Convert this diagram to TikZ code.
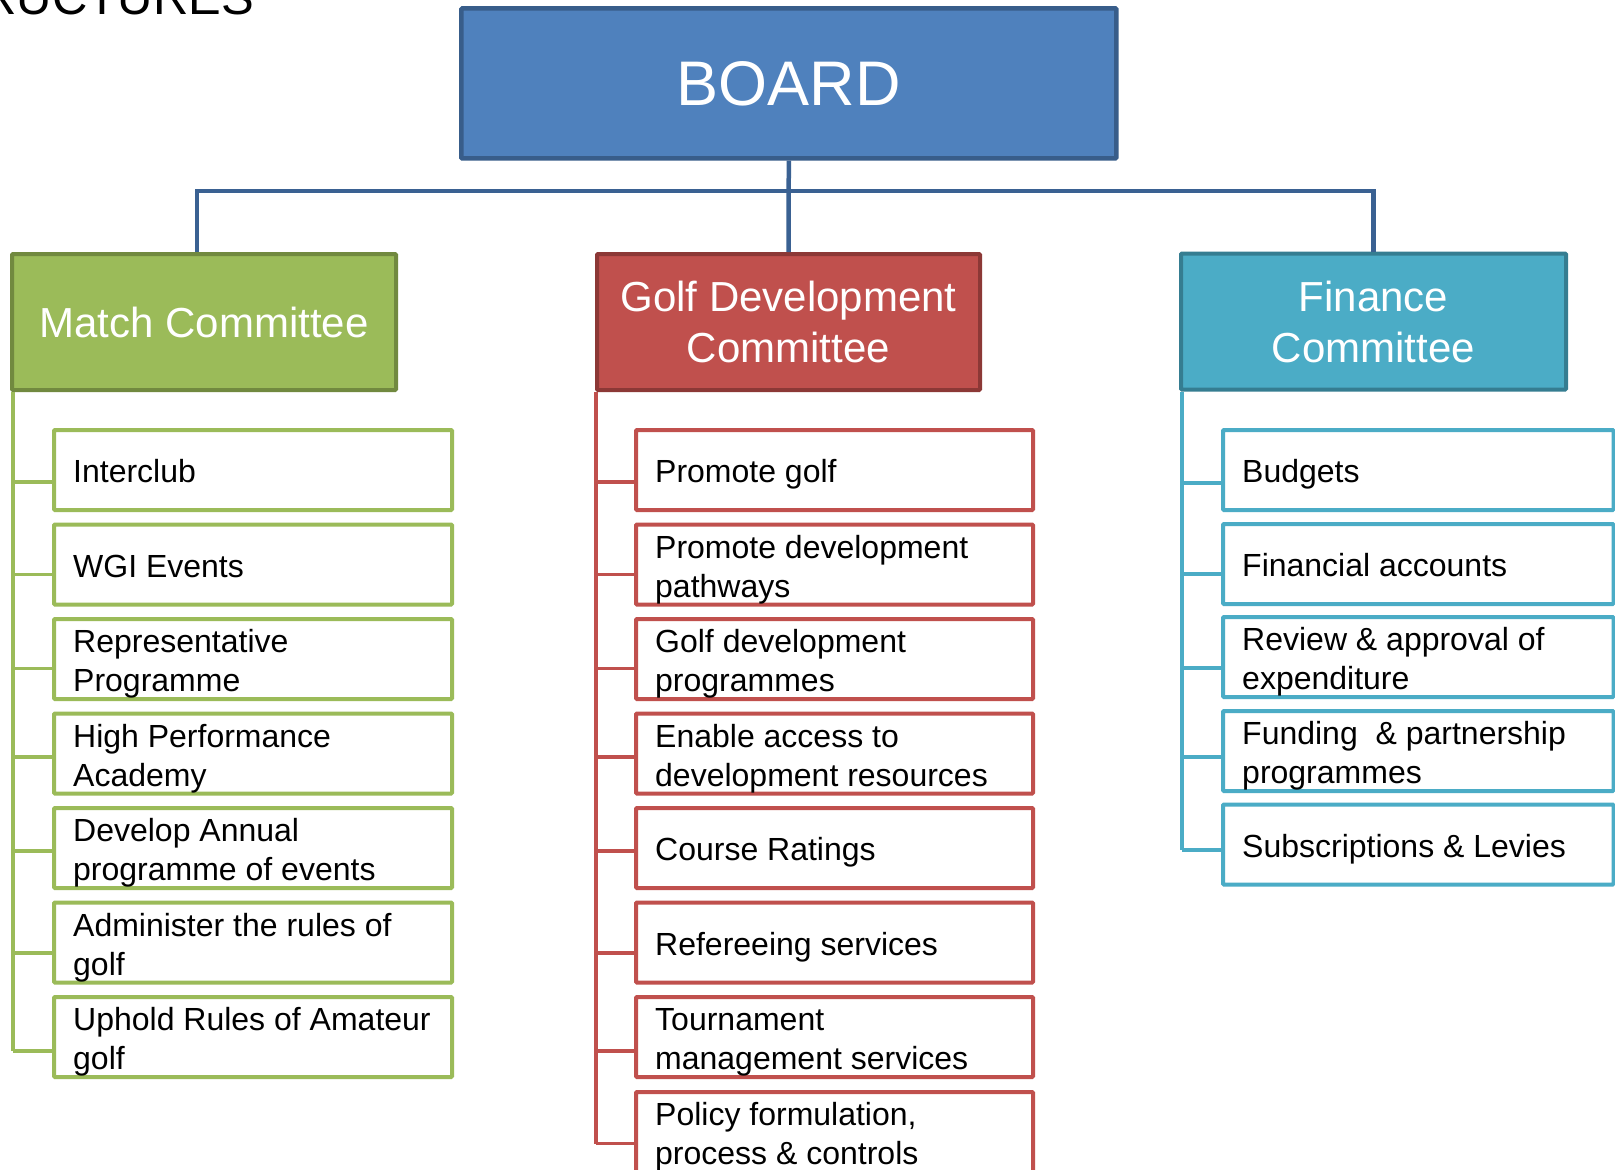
\documentclass[tikz,border=0pt]{standalone}
\usepackage{fontspec}
\setmainfont{Liberation Sans}
\usetikzlibrary{calc}
\definecolor{boardfill}{HTML}{4F81BD}
\definecolor{boardline}{HTML}{385D8A}
\definecolor{buscol}{HTML}{3A6192}
\definecolor{gfill}{HTML}{9BBB59}
\definecolor{gdark}{HTML}{71893F}
\definecolor{rfill}{HTML}{C0504D}
\definecolor{rdark}{HTML}{8C3836}
\definecolor{tfill}{HTML}{4BACC6}
\definecolor{tdark}{HTML}{357D91}
\tikzset{
  boardbox/.style={draw=boardline, fill=boardfill, line width=4.5pt, minimum width=655pt, minimum height=150pt, inner sep=0pt, rounded corners=1pt, text=white, font=\fontsize{63}{70}\selectfont},
  combox/.style={line width=4pt, minimum width=384pt, minimum height=136pt, inner sep=0pt, rounded corners=1pt, text=white, align=center, font=\fontsize{42}{51}\selectfont},
  itembox/.style={draw=#1, fill=white, line width=4pt, minimum height=80pt, inner sep=0pt, rounded corners=1pt},
  itxt/.style={anchor=west, inner sep=0pt, align=left, font=\fontsize{32}{39}\selectfont},
  itxtone/.style={anchor=base west, inner sep=0pt, font=\fontsize{32}{39}\selectfont},
  busline/.style={draw=buscol, line width=4.5pt},
  trunk/.style={draw=#1, line width=3.3pt},
  titletext/.style={inner sep=0pt, font=\fontsize{49}{55}\selectfont}
}
\begin{document}
\begin{tikzpicture}[x=1pt,y=-1pt]
\useasboundingbox (0,0) rectangle (1615,1170);
\clip (0,0) rectangle (1615,1170);
\fill[white] (0,0) rectangle (1615,1170);

% title fragment
\node[titletext, anchor=base east] (title) at (254,14) {STRUCTURES};

% top level
\node[boardbox] (board) at (788.8,83.4) {BOARD};
\node[combox, draw=gdark, fill=gfill] (match) at (204,322) {Match Committee};
\node[combox, draw=rdark, fill=rfill, minimum width=383pt] (golf) at (788.5,322) {Golf Development\\Committee};
\node[combox, draw=tdark, fill=tfill, minimum width=385pt] (fin) at (1373.5,321.5) {Finance\\Committee};

\coordinate (bus) at (788.8,191);
\draw[busline] (board.south) -- (golf.north);
\draw[busline] ($(match.north)+(-7,0)$) |- (bus) -| (fin.north);

% ---------- green column ----------
\coordinate (gtop) at (13,392);
\draw[trunk=gfill] (gtop) -- (13,1051);
\foreach \i/\y/\by in {1/470/482, 2/564.5/574.5, 3/659/668.5, 4/753.5/757, 5/848/851, 6/942.5/953, 7/1037/1051}{
  \node[itembox=gfill, minimum width=398pt] (g\i) at (253,\y) {};
  \draw[trunk=gfill] (gtop |- 0,\by) -- (g\i.west |- 0,\by);
}
\node[itxtone] (g1t) at ($(g1.west)+(21,12.5)$) {Interclub};
\node[itxtone] (g2t) at ($(g2.west)+(21,12.5)$) {WGI Events};
\node[itxt] (g3t) at ($(g3.west)+(21,5)$) {Representative\\Programme};
\node[itxt] (g4t) at ($(g4.west)+(21,5)$) {High Performance\\Academy};
\node[itxt] (g5t) at ($(g5.west)+(21,5)$) {Develop Annual\\programme of events};
\node[itxt] (g6t) at ($(g6.west)+(21,5)$) {Administer the rules of\\golf};
\node[itxt] (g7t) at ($(g7.west)+(21,5)$) {Uphold Rules of Amateur\\golf};

% ---------- red column ----------
\coordinate (rtop) at (596,392);
\draw[trunk=rfill] (rtop) -- (596,1143.5);
\foreach \i/\y/\by in {1/470/482, 2/564.5/574.5, 3/659/668.5, 4/753.5/757, 5/848/851, 6/942.5/953, 7/1037/1051, 8/1132/1143.5}{
  \node[itembox=rfill, minimum width=397pt] (r\i) at (834.5,\y) {};
  \draw[trunk=rfill] (rtop |- 0,\by) -- (r\i.west |- 0,\by);
}
\node[itxtone] (r1t) at ($(r1.west)+(21,12.5)$) {Promote golf};
\node[itxt] (r2t) at ($(r2.west)+(21,5)$) {Promote development\\pathways};
\node[itxt] (r3t) at ($(r3.west)+(21,5)$) {Golf development\\programmes};
\node[itxt] (r4t) at ($(r4.west)+(21,5)$) {Enable access to\\development resources};
\node[itxtone] (r5t) at ($(r5.west)+(21,12.5)$) {Course Ratings};
\node[itxtone] (r6t) at ($(r6.west)+(21,12.5)$) {Refereeing services};
\node[itxt] (r7t) at ($(r7.west)+(21,5)$) {Tournament\\management services};
\node[itxt] (r8t) at ($(r8.west)+(21,5)$) {Policy formulation,\\process \& controls};

% ---------- teal column ----------
\coordinate (ttop) at (1182,392);
\draw[trunk=tfill] (ttop) -- (1182,850);
\foreach \i/\y/\by in {1/470/483, 2/564/574, 3/657/668, 4/751/757, 5/844.5/850}{
  \node[itembox=tfill, minimum width=390.5pt] (t\i) at (1418.25,\y) {};
  \draw[trunk=tfill] (ttop |- 0,\by) -- (t\i.west |- 0,\by);
}
\node[itxtone] (t1t) at ($(t1.west)+(21,12.5)$) {Budgets};
\node[itxtone] (t2t) at ($(t2.west)+(21,12.5)$) {Financial accounts};
\node[itxt] (t3t) at ($(t3.west)+(21,5)$) {Review \& approval of\\expenditure};
\node[itxt] (t4t) at ($(t4.west)+(21,5)$) {Funding\ \ \& partnership\\programmes};
\node[itxtone] (t5t) at ($(t5.west)+(21,12.5)$) {Subscriptions \& Levies};
\end{tikzpicture}
\end{document}
